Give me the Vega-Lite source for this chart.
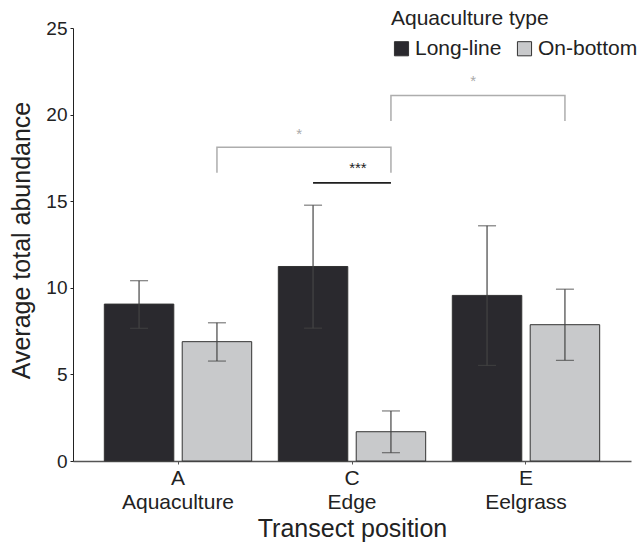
{
  "$schema": "https://vega.github.io/schema/vega-lite/v6.json",
  "width": 558,
  "height": 433,
  "autosize": {"type": "none"},
  "padding": {"left": 73, "top": 28, "right": 9, "bottom": 81},
  "config": {"font": "Liberation Sans", "view": {"stroke": null}},
  "datasets": {
    "bars": [
      {"pos": "A|Aquaculture", "type": "Long-line", "mean": 9.06, "lo": 7.66, "hi": 10.41},
      {"pos": "A|Aquaculture", "type": "On-bottom", "mean": 6.89, "lo": 5.77, "hi": 7.98},
      {"pos": "C|Edge", "type": "Long-line", "mean": 11.23, "lo": 7.67, "hi": 14.77},
      {"pos": "C|Edge", "type": "On-bottom", "mean": 1.69, "lo": 0.48, "hi": 2.89},
      {"pos": "E|Eelgrass", "type": "Long-line", "mean": 9.56, "lo": 5.52, "hi": 13.58},
      {"pos": "E|Eelgrass", "type": "On-bottom", "mean": 7.87, "lo": 5.81, "hi": 9.92}
    ],
    "brackets": [
      {"g": "g1", "seq": 1, "pos": "A|Aquaculture", "type": "On-bottom", "v": 16.64},
      {"g": "g1", "seq": 2, "pos": "A|Aquaculture", "type": "On-bottom", "v": 18.12},
      {"g": "g1", "seq": 3, "pos": "C|Edge", "type": "On-bottom", "v": 18.12},
      {"g": "g1", "seq": 4, "pos": "C|Edge", "type": "On-bottom", "v": 16.64},
      {"g": "g2", "seq": 1, "pos": "C|Edge", "type": "On-bottom", "v": 19.63},
      {"g": "g2", "seq": 2, "pos": "C|Edge", "type": "On-bottom", "v": 21.1},
      {"g": "g2", "seq": 3, "pos": "E|Eelgrass", "type": "On-bottom", "v": 21.1},
      {"g": "g2", "seq": 4, "pos": "E|Eelgrass", "type": "On-bottom", "v": 19.63}
    ],
    "blackline": [
      {"g": "g3", "seq": 1, "pos": "C|Edge", "type": "Long-line", "v": 16.06},
      {"g": "g3", "seq": 2, "pos": "C|Edge", "type": "On-bottom", "v": 16.06}
    ],
    "graystars": [
      {"pos": "C|Edge", "type": "Long-line", "v": 18.9, "label": "*"},
      {"pos": "E|Eelgrass", "type": "Long-line", "v": 21.95, "label": "*"}
    ],
    "blackstars": [
      {"pos": "C|Edge", "type": "On-bottom", "v": 16.9, "label": "***"}
    ]
  },
  "layer": [
    {
      "data": {"name": "bars"},
      "mark": {"type": "bar", "stroke": "#333333", "strokeWidth": 1},
      "encoding": {
        "x": {
          "field": "pos", "type": "nominal",
          "scale": {"domain": ["A|Aquaculture", "C|Edge", "E|Eelgrass"], "paddingInner": 0.153, "paddingOuter": 0.18},
          "axis": {
            "title": "Transect position",
            "labelExpr": "split(datum.label, '|')",
            "labelAngle": 0,
            "labelFontSize": 21,
            "labelLineHeight": 24,
            "labelColor": "#222222",
            "labelPadding": 3,
            "tickSize": 3,
            "tickColor": "#555555",
            "domainColor": "#555555",
            "domainWidth": 1.5,
            "titleFontSize": 25,
            "titleFontWeight": "normal",
            "titleColor": "#222222",
            "titlePadding": 4
          }
        },
        "xOffset": {
          "field": "type", "type": "nominal",
          "scale": {"domain": ["Long-line", "On-bottom"], "paddingInner": 0.108, "paddingOuter": 0}
        },
        "y": {
          "field": "mean", "type": "quantitative",
          "title": "Average total abundance",
          "scale": {"domain": [0, 25], "nice": false},
          "axis": {
            "values": [0, 5, 10, 15, 20, 25],
            "grid": false,
            "domainColor": "#222222",
            "domainWidth": 1,
            "tickColor": "#222222",
            "tickSize": 3,
            "labelFontSize": 19,
            "labelColor": "#222222",
            "labelPadding": 3,
            "titleFontSize": 25,
            "titleFontWeight": "normal",
            "titleColor": "#222222",
            "titleX": -52,
            "titleY": 212,
            "titleAngle": 270,
            "titleBaseline": "middle",
            "titleAlign": "center"
          }
        },
        "color": {
          "field": "type", "type": "nominal",
          "scale": {"domain": ["Long-line", "On-bottom"], "range": ["#2a292e", "#c8c9cb"]},
          "legend": {
            "orient": "none",
            "legendX": 318,
            "legendY": -20,
            "direction": "horizontal",
            "title": "Aquaculture type",
            "titleFontSize": 21,
            "titleFontWeight": "normal",
            "titleColor": "#222222",
            "titlePadding": 9,
            "labelFontSize": 21,
            "labelColor": "#222222",
            "labelOffset": 3,
            "symbolType": "square",
            "symbolSize": 200,
            "symbolStrokeColor": "#333333",
            "symbolStrokeWidth": 1,
            "symbolOpacity": 1,
            "columnPadding": 12
          }
        }
      }
    },
    {
      "data": {"name": "bars"},
      "mark": {"type": "rule", "color": "#444444", "strokeWidth": 1.2},
      "encoding": {
        "x": {"field": "pos", "type": "nominal"},
        "xOffset": {"field": "type", "type": "nominal"},
        "y": {"field": "lo", "type": "quantitative", "title": "Average total abundance"},
        "y2": {"field": "hi"}
      }
    },
    {
      "data": {"name": "bars"},
      "mark": {"type": "tick", "color": "#444444", "thickness": 1.2, "size": 18, "orient": "horizontal"},
      "encoding": {
        "x": {"field": "pos", "type": "nominal"},
        "xOffset": {"field": "type", "type": "nominal"},
        "y": {"field": "lo", "type": "quantitative", "title": "Average total abundance"}
      }
    },
    {
      "data": {"name": "bars"},
      "mark": {"type": "tick", "color": "#444444", "thickness": 1.2, "size": 18, "orient": "horizontal"},
      "encoding": {
        "x": {"field": "pos", "type": "nominal"},
        "xOffset": {"field": "type", "type": "nominal"},
        "y": {"field": "hi", "type": "quantitative", "title": "Average total abundance"}
      }
    },
    {
      "data": {"name": "brackets"},
      "mark": {"type": "line", "color": "#adadad", "strokeWidth": 1.5},
      "encoding": {
        "x": {"field": "pos", "type": "nominal"},
        "xOffset": {"field": "type", "type": "nominal"},
        "y": {"field": "v", "type": "quantitative", "title": "Average total abundance"},
        "detail": {"field": "g"},
        "order": {"field": "seq"}
      }
    },
    {
      "data": {"name": "blackline"},
      "mark": {"type": "line", "color": "#1e1e1e", "strokeWidth": 1.8},
      "encoding": {
        "x": {"field": "pos", "type": "nominal"},
        "xOffset": {"field": "type", "type": "nominal"},
        "y": {"field": "v", "type": "quantitative", "title": "Average total abundance"},
        "detail": {"field": "g"},
        "order": {"field": "seq"}
      }
    },
    {
      "data": {"name": "graystars"},
      "mark": {"type": "text", "color": "#a9a9a9", "fontSize": 15, "dx": -14, "baseline": "middle"},
      "encoding": {
        "x": {"field": "pos", "type": "nominal"},
        "xOffset": {"field": "type", "type": "nominal"},
        "y": {"field": "v", "type": "quantitative", "title": "Average total abundance"},
        "text": {"field": "label"}
      }
    },
    {
      "data": {"name": "blackstars"},
      "mark": {"type": "text", "color": "#1e1e1e", "fontSize": 15, "dx": -33, "baseline": "middle"},
      "encoding": {
        "x": {"field": "pos", "type": "nominal"},
        "xOffset": {"field": "type", "type": "nominal"},
        "y": {"field": "v", "type": "quantitative", "title": "Average total abundance"},
        "text": {"field": "label"}
      }
    }
  ]
}
